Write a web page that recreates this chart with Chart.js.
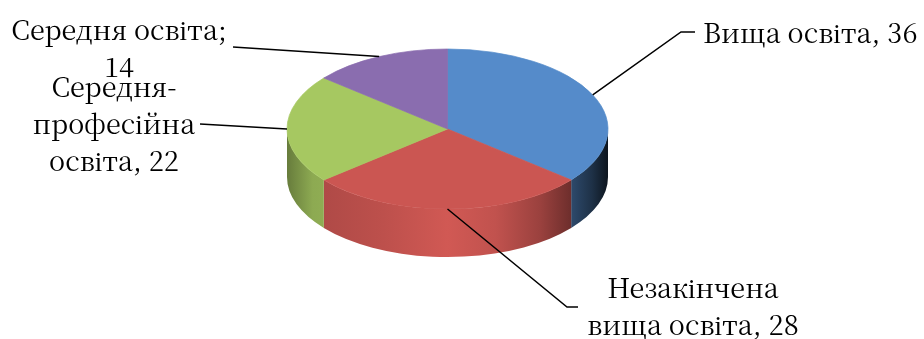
<!DOCTYPE html>
<html><head><meta charset="utf-8">
<script src="https://cdn.jsdelivr.net/npm/chart.js@4.4.1/dist/chart.umd.min.js"></script>
<style>html,body{margin:0;padding:0;background:#fff;overflow:hidden;} #wrap{width:924px;height:339px;position:relative;}
#pre{position:absolute;left:-9999px;top:0;font:27px "Noto Serif CJK SC";}</style>
</head><body><div id="wrap"><canvas id="c" width="924" height="339"></canvas></div><span id="pre">Середня освіта 36</span>
<script>
// ---- data ----
const categories = ['Вища освіта', 'Незакінчена вища освіта', 'Середня-професійна освіта', 'Середня освіта'];
const values = [36, 28, 22, 14];
const labelLines = [
  ['Вища освіта, {v}'],
  ['Незакінчена', 'вища освіта, {v}'],
  ['Середня-', 'професійна', 'освіта, {v}'],
  ['Середня освіта;', '{v}']
];
const colors = ['#558BCA', '#CB5652', '#A6C861', '#8A6DAF'];

// ---- layout (positions / styles) ----
const PIE = {cx: 447.5, cy: 129, rx: 160.5, ry: 80, depth: 48};
const LABELS = [
  {elbow: [681, 32], end: [695, 32], x: 703, y: 43, align: 'left'},
  {elbow: [567, 307], end: [578, 307], x: 693, y: 298, align: 'center'},
  {elbow: null, end: [200, 124], x: 114, y: 97, align: 'center'},
  {elbow: null, end: [233, 47], x: 119, y: 40, align: 'center'}
];
const LINE_H = 37;
const FONT = '27px "Noto Serif CJK SC", serif';
const SHADE = [[0, 0.62], [0.08, 0.85], [0.3, 0.93], [0.5, 1.03], [0.65, 0.95], [0.79, 0.76], [0.88, 0.55], [0.95, 0.35], [1, 0.15]];

function shade(hex, f) {
  const n = parseInt(hex.slice(1), 16);
  const r = Math.min(255, Math.round(((n >> 16) & 255) * f));
  const g = Math.min(255, Math.round(((n >> 8) & 255) * f));
  const b = Math.min(255, Math.round((n & 255) * f));
  return `rgb(${r},${g},${b})`;
}

const pie3d = {
  id: 'pie3d',
  beforeDatasetsDraw(chart) {
    const ctx = chart.ctx;
    const meta = chart.getDatasetMeta(0);
    const {cx, cy, rx, ry, depth} = PIE;
    meta.data.forEach((arc, i) => {
      const a = Math.max(arc.startAngle, 0), b = Math.min(arc.endAngle, Math.PI);
      if (b <= a) return;
      const g = ctx.createLinearGradient(cx - rx, 0, cx + rx, 0);
      SHADE.forEach(([p, f]) => g.addColorStop(p, shade(colors[i], f)));
      ctx.save();
      ctx.fillStyle = g;
      ctx.beginPath();
      ctx.ellipse(cx, cy, rx, ry, 0, a, b);
      ctx.ellipse(cx, cy + depth, rx, ry, 0, b, a, true);
      ctx.closePath();
      ctx.fill();
      ctx.restore();
    });
    const a0 = meta.data[0];
    ctx.save();
    ctx.translate(cx, cy);
    ctx.scale(rx / a0.outerRadius, ry / a0.outerRadius);
    ctx.translate(-a0.x, -a0.y);
  },
  afterDatasetsDraw(chart) {
    const ctx = chart.ctx;
    ctx.restore();
    const meta = chart.getDatasetMeta(0);
    const {cx, cy, rx, ry} = PIE;
    ctx.save();
    ctx.strokeStyle = '#000';
    ctx.lineWidth = 1.5;
    ctx.fillStyle = '#000';
    ctx.font = FONT;
    ctx.textBaseline = 'alphabetic';
    meta.data.forEach((arc, i) => {
      const mid = (arc.startAngle + arc.endAngle) / 2;
      const px = cx + rx * Math.cos(mid), py = cy + ry * Math.sin(mid);
      const L = LABELS[i];
      ctx.beginPath();
      ctx.moveTo(px, py);
      if (L.elbow) ctx.lineTo(L.elbow[0], L.elbow[1]);
      ctx.lineTo(L.end[0], L.end[1]);
      ctx.stroke();
      ctx.textAlign = L.align;
      labelLines[i].forEach((t, j) => {
        ctx.fillText(t.replace('{v}', values[i]), L.x, L.y + j * LINE_H);
      });
    });
    ctx.restore();
  }
};

function build() {
  new Chart(document.getElementById('c'), {
    type: 'pie',
    data: {
      labels: categories,
      datasets: [{
        data: values,
        backgroundColor: colors,
        borderColor: colors,
        borderWidth: 1,
        clip: false
      }]
    },
    options: {
      responsive: false,
      animation: false,
      events: [],
      layout: {padding: 0},
      plugins: {legend: {display: false}, tooltip: {enabled: false}}
    },
    plugins: [pie3d]
  });
}
if (document.fonts && document.fonts.load) {
  document.fonts.load(FONT, 'Середня освіта 36').then(build, build);
} else build();
</script>
</body></html>
